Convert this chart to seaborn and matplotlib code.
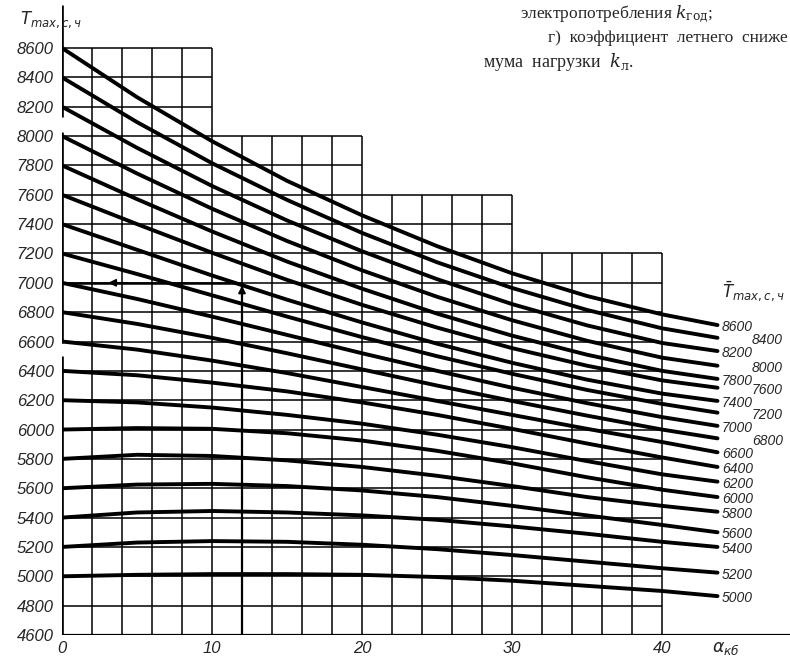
import numpy as np
import pandas as pd
import matplotlib
matplotlib.use("Agg")
import matplotlib.pyplot as plt
import seaborn as sns

# --- values ---
ALPHA = [0, 5, 10, 15, 20, 25, 30, 35, 40, 43.7]

T8600 = [8600, 8265, 7965, 7695, 7460, 7250, 7065, 6910, 6785, 6712]
T8400 = [8400, 8095, 7815, 7565, 7340, 7140, 6965, 6815, 6690, 6625]
T8200 = [8200, 7920, 7660, 7425, 7215, 7025, 6855, 6710, 6590, 6535]
T8000 = [8000, 7745, 7505, 7285, 7085, 6905, 6745, 6605, 6490, 6435]
T7800 = [7800, 7570, 7350, 7145, 6960, 6790, 6640, 6510, 6400, 6345]
T7600 = [7600, 7400, 7205, 7020, 6850, 6695, 6555, 6435, 6335, 6285]
T7400 = [7400, 7225, 7050, 6885, 6730, 6585, 6455, 6340, 6245, 6195]
T7200 = [7200, 7060, 6915, 6770, 6630, 6500, 6380, 6270, 6175, 6115]
T7000 = [7000, 6890, 6770, 6645, 6520, 6400, 6285, 6180, 6085, 6025]
T6800 = [6800, 6720, 6625, 6520, 6410, 6300, 6195, 6095, 6000, 5940]
T6600 = [6600, 6545, 6470, 6385, 6290, 6195, 6100, 6005, 5915, 5845]
T6400 = [6400, 6370, 6320, 6260, 6185, 6100, 6005, 5905, 5810, 5745]
T6200 = [6200, 6185, 6150, 6100, 6040, 5965, 5880, 5785, 5695, 5645]
T6000 = [6000, 6010, 6005, 5975, 5925, 5855, 5770, 5675, 5590, 5540]
T5800 = [5800, 5828, 5820, 5790, 5745, 5685, 5615, 5540, 5480, 5440]
T5600 = [5600, 5625, 5630, 5615, 5585, 5540, 5480, 5415, 5350, 5300]
T5400 = [5400, 5435, 5445, 5435, 5415, 5385, 5340, 5290, 5235, 5200]
T5200 = [5200, 5230, 5240, 5235, 5215, 5185, 5145, 5100, 5055, 5025]
T5000 = [5000, 5010, 5015, 5015, 5010, 4995, 4970, 4935, 4900, 4865]

CURVES = [T8600, T8400, T8200, T8000, T7800, T7600, T7400, T7200, T7000, T6800,
          T6600, T6400, T6200, T6000, T5800, T5600, T5400, T5200, T5000]
CURVE_NAMES = [c[0] for c in CURVES]
# labels shifted to a second column at the right end
SECOND_COL = [8400, 8000, 7600, 7200, 6800]

Y_TICKS = list(range(4600, 8601, 200))
X_TICKS = [0, 10, 20, 30, 40]

# stepped outline of the grid
STEP_EDGES = [0, 10, 20, 30, 40]
STEP_TOPS = [8600, 8000, 7600, 7200]

# --- figure ---
sns.set_theme(style="white")
plt.rcParams['font.family'] = ['Liberation Sans', 'DejaVu Sans']
plt.rcParams['mathtext.fontset'] = 'dejavusans'

W, H = 790, 661
fig = plt.figure(figsize=(W / 100, H / 100), dpi=100)
fig.patch.set_facecolor('white')
px_x = 15.0            # pixels per alpha unit
px_y = 587.0 / 4000    # pixels per hour
ax = fig.add_axes([62 / W, 26 / H, 728 / W, 635 / H])
ax.set_xlim(0, 728 / px_x)
ax.set_ylim(4600, 4600 + 635 / px_y)
ax.set_facecolor('white')
for s in ax.spines.values():
    s.set_visible(False)

grid_kw = dict(color='black', lw=1.1, zorder=1)

# horizontal grid lines
for t in Y_TICKS[1:]:
    right = max(e for e, top in zip(STEP_EDGES[1:], STEP_TOPS) if top >= t)
    ax.hlines(t, 0, right, **grid_kw)
# vertical grid lines
for x in range(2, 41, 2):
    top = max(top for e0, e1, top in zip(STEP_EDGES[:-1], STEP_EDGES[1:], STEP_TOPS)
              if e0 <= x <= e1)
    ax.vlines(x, 4600, top, **grid_kw)

# left axis line with its two breaks, and the base line
for y0, y1 in [(4600, 6500), (6590, 8030), (8130, 8895)]:
    ax.vlines(0, y0, y1, color='black', lw=1.9, zorder=2)
ax.hlines(4600, 0, 728 / px_x, color='black', lw=1.6, zorder=2)

# example reading: up from alpha=12, then left at 7000
ax.vlines(12, 4600, 7000, color='black', lw=1.6, zorder=2)
ax.hlines(7000, 0, 12, color='black', lw=1.8, zorder=2)
ax.annotate('', xy=(12, 7000), xytext=(12, 6880),
            arrowprops=dict(arrowstyle='-|>', color='black', lw=1.2, mutation_scale=11))
ax.annotate('', xy=(2.9, 7000), xytext=(4.5, 7000),
            arrowprops=dict(arrowstyle='-|>', color='black', lw=1.2, mutation_scale=11))

# curves
rows = []
for name, vals in zip(CURVE_NAMES, CURVES):
    for a, v in zip(ALPHA, vals):
        rows.append({'alpha': a, 'T': v, 'curve': name})
df = pd.DataFrame(rows)
sns.lineplot(data=df, x='alpha', y='T', hue='curve', units='curve', estimator=None,
             palette={n: 'black' for n in CURVE_NAMES}, legend=False,
             linewidth=2.8, ax=ax, zorder=3, solid_joinstyle='round')

# end labels
for name, vals in zip(CURVE_NAMES, CURVES):
    xl = ALPHA[-1] + (2.3 if name in SECOND_COL else 0.3)
    ax.text(xl, vals[-1] - 15, str(name), ha='left', va='center', fontsize=10,
            fontstyle='italic', family=['Liberation Sans', 'DejaVu Sans'])

# ticks
ax.set_yticks(Y_TICKS)
ax.set_yticklabels([str(t) for t in Y_TICKS], fontstyle='italic', fontsize=12)
ax.set_xticks(X_TICKS)
ax.set_xticklabels([str(t) for t in X_TICKS], fontstyle='italic', fontsize=12)
ax.tick_params(axis='y', length=0, pad=6)
ax.tick_params(axis='x', length=0, pad=4)
ax.set_xlabel('')
ax.set_ylabel('')

# axis titles
fig.text(20 / W, 1 - 24 / H, r'$T_{max,c,ч}$', fontsize=12)
fig.text(722 / W, 1 - 298 / H, r'$\bar{T}_{max,c,ч}$', fontsize=12)
fig.text(712 / W, 1 - 652 / H, r'$\alpha_{кб}$', fontsize=12.5)

# fragment of the page text above the chart
serif = ['Liberation Serif', 'DejaVu Serif']
plt.rcParams['mathtext.fontset'] = 'dejavuserif'
fig.text(520 / W, 1 - 18 / H, r'электропотребления $k_{\mathrm{год}}$;',
         fontsize=12.5, family=serif)
fig.text(548 / W, 1 - 42 / H, 'г)  коэффициент  летнего  сниже',
         fontsize=12.5, family=serif)
fig.text(483 / W, 1 - 67 / H, r'мума  нагрузки  $k_{\mathrm{л}}$.',
         fontsize=13, family=serif)

fig.savefig('out.png', dpi=100, facecolor='white')
